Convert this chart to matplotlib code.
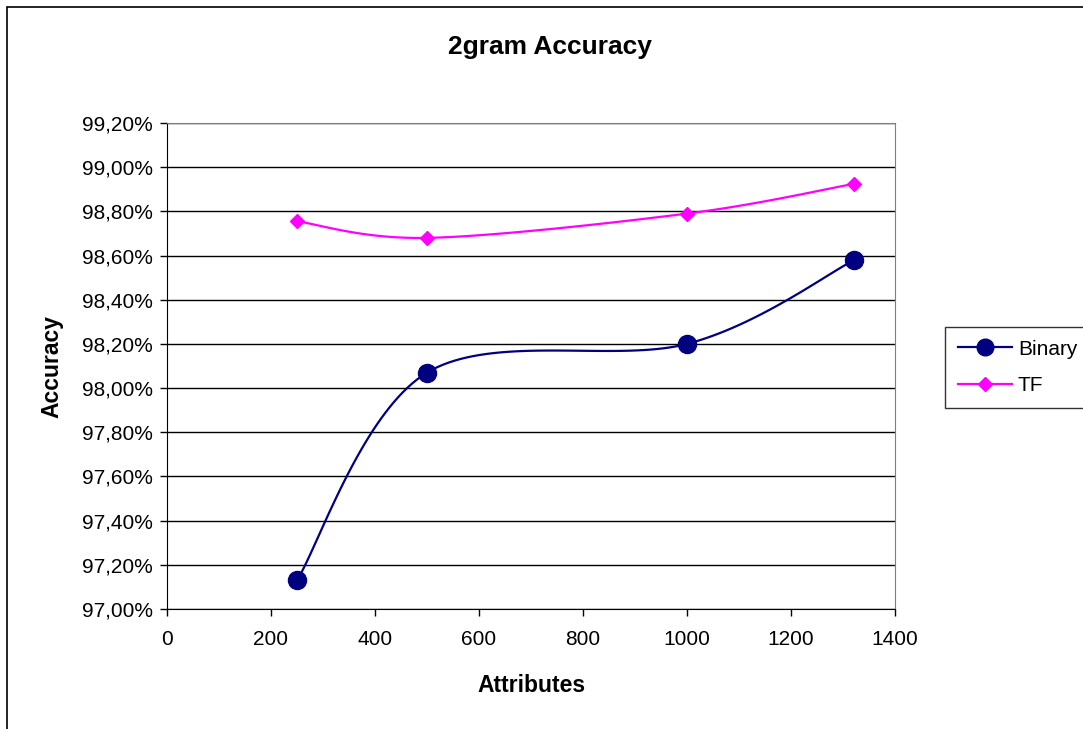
import matplotlib
matplotlib.use("Agg")
import matplotlib.pyplot as plt
import numpy as np
from matplotlib.patches import Rectangle
from matplotlib.lines import Line2D
from matplotlib.ticker import FuncFormatter, MultipleLocator

attributes = [250, 500, 1000, 1322]
binary_acc = [97.13, 98.07, 98.20, 98.58]
tf_acc = [98.755, 98.68, 98.79, 98.925]

x_ticks = [0, 200, 400, 600, 800, 1000, 1200, 1400]

plt.rcParams['font.family'] = ['Liberation Sans', 'DejaVu Sans']

W, H = 1083, 729
fig = plt.figure(figsize=(W / 100, H / 100), dpi=100)
fig.patch.set_facecolor('white')

# outer chart frame
fig.add_artist(Rectangle((7 / W, -0.05), 1.2, (H - 7) / H + 0.05,
                         transform=fig.transFigure, fill=False,
                         edgecolor='black', linewidth=1.2))

ax = fig.add_axes([167 / W, 1 - 609 / H, (895 - 167) / W, (609 - 123) / H])


def smooth(xs, ys, n=40):
    """Bezier smoothing between points, control points from neighbours."""
    xs = np.asarray(xs, float)
    ys = np.asarray(ys, float)
    px = np.concatenate([[xs[0]], xs, [xs[-1]]])
    py = np.concatenate([[ys[0]], ys, [ys[-1]]])
    out_x, out_y = [], []
    t = np.linspace(0, 1, n)
    for i in range(1, len(px) - 2):
        p0 = np.array([px[i], py[i]])
        p3 = np.array([px[i + 1], py[i + 1]])
        c1 = p0 + (np.array([px[i + 1], py[i + 1]]) - np.array([px[i - 1], py[i - 1]])) / 6
        c2 = p3 - (np.array([px[i + 2], py[i + 2]]) - np.array([px[i], py[i]])) / 6
        b = ((1 - t) ** 3)[:, None] * p0 + (3 * (1 - t) ** 2 * t)[:, None] * c1 \
            + (3 * (1 - t) * t ** 2)[:, None] * c2 + (t ** 3)[:, None] * p3
        out_x.extend(b[:, 0])
        out_y.extend(b[:, 1])
    return out_x, out_y


for ys, color, marker, ms in [
        (binary_acc, '#000080', 'o', 13),
        (tf_acc, '#FF00FF', 'D', 7.5)]:
    sx, sy = smooth(attributes, ys)
    ax.plot(sx, sy, color=color, linewidth=1.6, zorder=3)
    ax.plot(attributes, ys, linestyle='none', marker=marker, markersize=ms,
            color=color, markeredgecolor=color, zorder=4)

ax.set_xlim(0, 1400)
ax.set_ylim(97.0, 99.2)
ax.set_xticks(x_ticks)
ax.yaxis.set_major_locator(MultipleLocator(0.2))
ax.yaxis.set_major_formatter(FuncFormatter(lambda v, p: f"{v:.2f}%".replace('.', ',')))
ax.grid(axis='y', color='black', linewidth=1.0)
ax.set_axisbelow(True)
ax.tick_params(axis='both', direction='out', length=5, width=1, labelsize=15,
               colors='black', pad=5)
ax.tick_params(axis='x', pad=10)
for side in ['left', 'bottom']:
    ax.spines[side].set_color('black')
for side in ['top', 'right']:
    ax.spines[side].set_color('#808080')

fig.text(531 / W, 1 - 685 / H, 'Attributes', fontsize=16.5, fontweight='bold',
         ha='center', va='center')
fig.text(52 / W, 1 - 366 / H, 'Accuracy', fontsize=16.5, fontweight='bold',
         ha='center', va='center', rotation=90)
fig.text(550 / W, 1 - 47 / H, '2gram Accuracy', fontsize=19, fontweight='bold',
         ha='center', va='center')

# legend
handles = [Line2D([], [], color='#000080', marker='o', markersize=12, linewidth=1.6),
           Line2D([], [], color='#FF00FF', marker='D', markersize=7.5, linewidth=1.6)]
leg = fig.legend(handles, ['Binary', 'TF'], loc='upper left',
                 bbox_to_anchor=(945 / W, 1 - 327 / H), fontsize=15,
                 frameon=True, fancybox=False, edgecolor='black',
                 handlelength=2.6, borderpad=0.6, labelspacing=0.85,
                 handletextpad=0.3, borderaxespad=0)
leg.get_frame().set_linewidth(1.0)

fig.savefig('out.png', dpi=100)
